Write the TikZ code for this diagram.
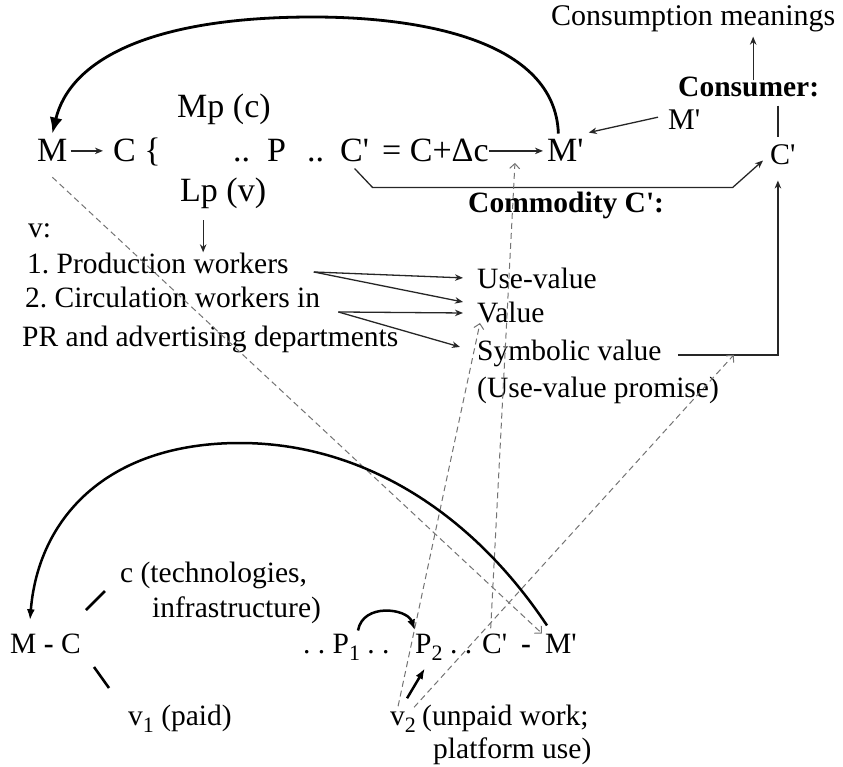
\documentclass[tikz,border=0pt]{standalone}
\usepackage{fontspec}
\setmainfont{Liberation Serif}[Ligatures=TeXOff]
\usetikzlibrary{arrows.meta,calc}
\frenchspacing
\newcommand\myprime{'}
\newcommand\mysub[1]{\raisebox{-7pt}{\fontsize{22}{22}\selectfont #1}}
\newcommand\fA{\fontsize{29.5}{35}\selectfont}
\newcommand\fB{\fontsize{34}{40}\selectfont}
\newcommand\fC{\fontsize{30}{36}\selectfont}
\begin{document}
\begin{tikzpicture}[x=1pt,y=-1pt,
  txt/.style={inner sep=0pt, anchor=base west, font=\fA},
  big/.style={inner sep=0pt, anchor=base west, font=\fB},
  ln/.style={line width=1.3pt, draw=black!85},
  arr/.style={ln, -{Stealth[length=8pt,width=6.5pt,inset=2.5pt]}},
  thk/.style={line width=2.8pt, -{Latex[length=16pt,width=13pt]}},
  thkb/.style={line width=2.5pt, -{Latex[length=11pt,width=8pt]}},
  dsh/.style={line width=1pt, draw=black!55, dash pattern=on 6pt off 4pt, -{Straight Barb[length=5pt,width=10pt]}},
]
\useasboundingbox (0,0) rectangle (843,767);

% top right
\node[txt,font=\fC] (cm) at (551,26) {Consumption meanings};
\node[txt] (cons) at (678,97) {\textbf{Consumer:}};
\node[txt,font=\fC] (Mr) at (668,130) {M\myprime};
\node[txt,font=\fC] (Cr) at (770,165) {C\myprime};
\node[txt] (comm) at (468,213) {\textbf{Commodity C\myprime:}};

% top formula
\node[big] (M) at (37,162) {M};
\node[big] (C) at (113,162) {C \{};
\node[big] (P) at (233,162) {..\hspace{17pt}P\hspace{21pt}..};
\node[big] (Cp) at (340,162) {C\myprime};
\node[big] (eq) at (382,162) {= C+Δc};
\node[big] (Mp) at (547,162) {M\myprime};
\node[big] (Mpc) at (177,118) {Mp (c)};
\node[big] (Lpv) at (180,202) {Lp (v)};

% lists
\node[txt] (v) at (28,238) {v:};
\node[txt] (w1) at (27,273) {1. Production workers};
\node[txt] (w2) at (25,308) {2. Circulation workers in};
\node[txt] (w3) at (22,346) {PR and advertising departments};
\node[txt] (uv) at (477,288) {Use-value};
\node[txt] (val) at (477,323) {Value};
\node[txt] (sym) at (477,360) {Symbolic value};
\node[txt] (prom) at (477,397) {(Use-value promise)};

% bottom
\node[txt] (MC) at (10,653) {M \textbf{-} C};
\node[txt] (ct) at (120,582) {c (technologies,};
\node[txt] (inf) at (152,617) {infrastructure)};
\node[txt] (v1) at (128,725) {v\mysub{1} (paid)};
\node[txt] (P1) at (303,653) {. . P\mysub{1} . .};
\node[txt] (P2) at (415,653) {P\mysub{2}};
\node[txt] (d2) at (450,653) {. .};
\node[txt] (Cb) at (482,653) {C\myprime};
\node[txt] (hy) at (521,653) {\textbf{-}};
\node[txt] (Mb) at (545,653) {M\myprime};
\node[txt] (v2) at (390,725) {v\mysub{2}};
\node[txt] (unp) at (422,725) {(unpaid work;};
\node[txt] (plat) at (433,758) {platform use)};

% top connectors
\draw[arr,shorten <=3pt,shorten >=10pt] (M.east) -- (M.east -| C.west);
\draw[arr,shorten >=4pt] (eq.east) -- (eq.east -| Mp.west);
\draw[arr] ([xshift=-10pt,yshift=3pt]Mr.west) -- ([xshift=5pt,yshift=7pt]Mp.north east);
\coordinate (toppk) at (313,17);
\draw[thk] ([xshift=-7pt,yshift=6pt]Mp.north) .. controls (555,40) and (420,17) .. (toppk)
  .. controls (150,17) and (70,60) .. ([yshift=6pt]M.north);
\draw[arr] ([yshift=-6pt]Cp.south) -- ++(18,19) -- ++(360,0) -- ([xshift=-7pt,yshift=5pt]Cr.south west);
\draw[arr,shorten >=4pt] ([xshift=4.5pt,yshift=-3pt]cons.north) -- ([xshift=4.5pt]cons.north |- cm.south);
\coordinate (crt) at ([xshift=-5pt,yshift=8pt]Cr.north);
\draw[ln] ([yshift=-8pt]cons.south -| crt) -- (crt);
\coordinate (crb) at ([xshift=-5pt,yshift=-15pt]Cr.south);
\draw[arr] ([xshift=16pt,yshift=-2pt]sym.east) -| (crb);

% v: connectors
\draw[arr] ([xshift=-20pt,yshift=-11pt]Lpv.south) -- ([xshift=-20pt]Lpv.south |- w1.north);
\draw[arr] ([xshift=25pt,yshift=-9pt]w1.east) -- ([xshift=-14pt]uv.west);
\draw[arr] ([xshift=25pt,yshift=-9pt]w1.east) -- ([xshift=-14pt,yshift=11pt]val.west);
\draw[arr] ([xshift=18pt,yshift=-14pt]w2.east) -- ([xshift=-14pt]val.west);
\draw[arr] ([xshift=18pt,yshift=-14pt]w2.east) -- ([xshift=-17pt,yshift=6pt]sym.west);

% dashed
\coordinate (mid) at ($(eq.east)!0.5!(eq.east -| Mp.west)$);
\draw[dsh] ([yshift=-15pt]M.south) -- ([xshift=-3pt]Mb.north west);
\draw[dsh] ([xshift=-4pt,yshift=5pt]Cb.north) -- ([xshift=-3pt,yshift=-12pt]mid);
\draw[dsh] ([xshift=-5pt,yshift=5pt]v2.north) -- ([xshift=3pt,yshift=-10pt]val.west);
\draw[dsh] ([xshift=11pt,yshift=4pt]v2.north) -- ([xshift=72pt,yshift=-2pt]sym.east);

% bottom connectors
\draw[line width=2.6pt] (86,610) -- (105,591);
\draw[line width=2.6pt] (94,667) -- (109,688);
\draw[thkb] ([xshift=55pt,yshift=3pt]P1.north west) .. controls +(5,-28) and +(-8,-22) .. ([yshift=3pt]P2.north west);
\draw[thkb] ([xshift=4pt,yshift=13pt]v2.north) -- ([xshift=-4pt,yshift=-8pt]P2.south);
\coordinate (botpk) at (240,443);
\draw[thkb] ([xshift=2pt,yshift=8pt]Mb.north west) .. controls (470,510) and (360,443) .. (botpk)
  .. controls (105,443) and (38,520) .. ([xshift=20pt,yshift=13pt]MC.north west);
\end{tikzpicture}
\end{document}
